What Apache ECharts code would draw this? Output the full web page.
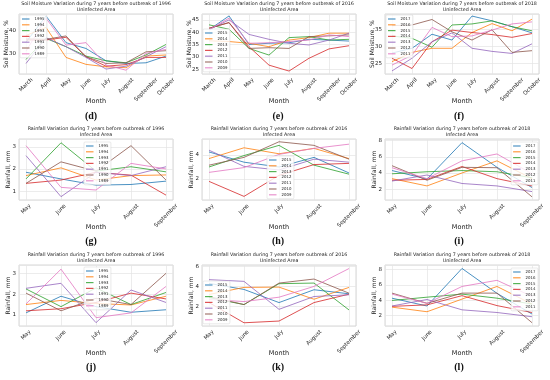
<!DOCTYPE html>
<html><head><meta charset="utf-8">
<script src="https://cdn.jsdelivr.net/npm/echarts@6/dist/echarts.min.js"></script>
<style>html,body{margin:0;padding:0;background:#fff}#c{width:550px;height:380px}</style>
</head><body><div id="c"></div>
<script>
// ---- categories / tick labels ----
const monthsSoil = ['March','April','May','June','July','August','September','October'];
const monthsRain = ['May','June','July','August','September'];
const years1996 = ['1995','1994','1993','1992','1991','1990','1989'];
const years2016 = ['2015','2014','2013','2012','2011','2010','2009'];
const years2018 = ['2017','2016','2015','2014','2013','2012','2011'];

// ---- series values (one row per year, in legend order) ----
// (d) Soil moisture, 1996, uninfected
const soil1996 = [
  [35.0, 46.7, 34.8, 32.2, 26.7, 25.5, 25.8, 28.8],
  [38.0, 41.6, 28.2, 25.1, 24.0, 23.6, 28.8, 29.3],
  [27.3, 36.7, 33.0, 28.8, 26.7, 25.8, 29.3, 34.0],
  [36.0, 36.0, 37.2, 28.5, 24.3, 25.0, 28.2, 28.2],
  [25.5, 37.0, 33.0, 28.2, 23.0, 24.3, 28.5, 33.0],
  [36.5, 36.3, 37.8, 28.5, 25.5, 25.8, 30.7, 31.2],
  [31.0, 45.7, 33.7, 34.8, 24.8, 22.5, 30.0, 31.8]
];
// (e) Soil moisture, 2016, uninfected
const soil2016 = [
  [41.0, 46.6, 35.0, 35.5, 35.7, 37.1, 36.8, 36.4],
  [36.5, 36.2, 35.5, 34.1, 36.8, 37.8, 39.6, 39.6],
  [43.0, 41.2, 33.4, 30.7, 37.8, 38.2, 36.8, 37.1],
  [41.6, 43.9, 34.1, 26.6, 24.2, 29.4, 33.2, 34.5],
  [41.0, 45.0, 39.1, 37.1, 35.5, 34.8, 36.8, 39.6],
  [41.6, 43.9, 33.4, 33.7, 33.4, 38.2, 38.5, 38.9],
  [41.0, 45.7, 35.5, 35.7, 36.2, 36.8, 38.9, 38.2]
];
// (f) Soil moisture, 2018, uninfected
const soil2018 = [
  [28.0, 29.4, 33.5, 31.8, 38.8, 37.4, 35.7, 33.9],
  [25.5, 28.2, 29.4, 29.4, 34.0, 36.6, 34.5, 37.9],
  [33.0, 32.3, 29.7, 36.2, 36.5, 37.4, 35.7, 34.5],
  [26.5, 23.5, 31.3, 34.7, 34.0, 33.4, 32.6, 33.7],
  [22.8, 26.5, 31.3, 33.9, 29.4, 28.5, 27.9, 30.7],
  [36.0, 36.2, 37.8, 34.2, 31.8, 34.8, 28.2, 28.7],
  [24.5, 27.4, 35.5, 32.8, 33.0, 34.7, 36.5, 37.1]
];
// (g) Rainfall, 1996, infected
const rain1996Inf = [
  [1.85, 1.55, 1.27, 1.30, 1.45],
  [1.70, 2.05, 1.50, 1.70, 1.73],
  [1.55, 3.18, 1.90, 2.10, 1.87],
  [1.35, 1.50, 1.85, 1.72, 0.82],
  [2.60, 0.75, 1.85, 1.70, 2.10],
  [1.35, 2.32, 1.90, 3.05, 1.50],
  [3.05, 1.17, 1.05, 2.25, 2.00]
];
// (h) Rainfall, 2016, infected
const rain2016Inf = [
  [4.25, 3.40, 3.00, 3.80, 2.50],
  [3.70, 4.60, 4.10, 4.55, 3.70],
  [3.00, 3.95, 4.80, 3.15, 2.40],
  [1.80, 0.55, 2.30, 3.20, 3.30],
  [4.40, 3.05, 2.75, 3.65, 3.40],
  [3.15, 3.80, 5.10, 4.80, 3.65],
  [2.55, 2.95, 4.05, 4.55, 4.90]
];
// (i) Rainfall, 2018, infected
const rain2018Inf = [
  [4.30, 3.25, 7.75, 4.70, 2.20],
  [3.30, 2.40, 4.00, 5.50, 3.30],
  [3.90, 4.15, 4.30, 4.15, 3.40],
  [3.10, 3.20, 4.80, 3.30, 2.40],
  [3.00, 3.75, 2.70, 2.40, 1.70],
  [4.90, 3.10, 4.70, 4.65, 1.05],
  [4.65, 3.30, 5.50, 6.35, 3.90]
];
// (j) Rainfall, 1996, uninfected
const rain1996Un = [
  [1.10, 1.90, 1.40, 1.13, 1.25],
  [1.50, 1.70, 1.55, 1.48, 1.90],
  [2.25, 1.40, 2.30, 1.50, 2.08],
  [1.20, 1.30, 1.60, 2.05, 1.77],
  [2.28, 2.52, 0.63, 2.20, 1.60],
  [2.05, 1.20, 1.80, 1.50, 3.00],
  [1.53, 3.20, 0.87, 1.10, 2.37]
];
// (k) Rainfall, 2016, uninfected
const rain2016Un = [
  [4.30, 3.70, 2.40, 3.67, 3.27],
  [3.20, 3.90, 3.93, 2.73, 3.90],
  [2.90, 2.20, 4.27, 4.33, 1.67],
  [2.40, 0.40, 0.57, 2.40, 3.23],
  [4.67, 4.50, 1.73, 3.00, 3.17],
  [3.00, 2.20, 4.33, 4.73, 3.33],
  [2.70, 2.50, 2.93, 4.00, 5.77]
];
// (l) Rainfall, 2018, uninfected
const rain2018Un = [
  [4.27, 3.25, 8.15, 4.90, 2.20],
  [3.10, 2.50, 4.15, 5.80, 3.50],
  [3.97, 4.40, 4.80, 4.27, 3.50],
  [3.20, 3.40, 4.60, 3.30, 2.40],
  [3.25, 4.10, 2.75, 2.40, 1.85],
  [4.93, 3.60, 4.93, 4.93, 1.07],
  [4.80, 3.60, 5.80, 6.60, 4.50]
];

// ---- styling / layout ----
const COLORS = ['#1f77b4','#ff7f0e','#2ca02c','#d62728','#9467bd','#8c564b','#e377c2'];
const FONT = 'DejaVu Sans';
const COL_LEFT = [19, 202, 385];
const PLOT_W = 154;
const ROW_TOP = [14, 139, 265];
const ROW_H = [60, 61, 61];
const LETTER_X = [91, 278, 459];
const LETTER_Y = [117, 242, 368];

const soilT = 'Soil Moisture Variation during 7 years before outbreak of ';
const rainT = 'Rainfall Variation during 7 years before outbreak of ';

const panels = [
  {key:'d', row:0, col:0, title: soilT+'1996\nUninfected Area', months: monthsSoil, years: years1996, data: soil1996, yMin:20.8, yMax:47.6, yStep:10, yName:'Soil Moisture, %', nameGap:10, legend:{left:20, top:15}},
  {key:'e', row:0, col:1, title: soilT+'2016\nUninfected Area', months: monthsSoil, years: years2016, data: soil2016, yMin:23.0, yMax:47.4, yStep:5, yName:'Soil Moisture, %', nameGap:10, legend:{left:203, top:29}},
  {key:'f', row:0, col:2, title: soilT+'2018\nUninfected Area', months: monthsSoil, years: years2018, data: soil2018, yMin:21.9, yMax:39.4, yStep:5, yName:'Soil Moisture, %', nameGap:10, legend:{left:386, top:15}},
  {key:'g', row:1, col:0, title: rainT+'1996\nInfected Area', months: monthsRain, years: years1996, data: rain1996Inf, yMin:0.6, yMax:3.35, yStep:1, yName:'Rainfall, mm', nameGap:8, legend:{left:84, top:142}},
  {key:'h', row:1, col:1, title: rainT+'2016\nInfected Area', months: monthsRain, years: years2016, data: rain2016Inf, yMin:0.25, yMax:5.33, yStep:2, yName:'Rainfall, mm', nameGap:8, legend:{left:267, top:156}},
  {key:'i', row:1, col:2, title: rainT+'2018\nInfected Area', months: monthsRain, years: years2018, data: rain2018Inf, yMin:0.66, yMax:8.2, yStep:2, yName:'Rainfall, mm', nameGap:8, legend:{right:12, top:142}},
  {key:'j', row:2, col:0, title: rainT+'1996\nUninfected Area', months: monthsRain, years: years1996, data: rain1996Un, yMin:0.47, yMax:3.4, yStep:1, yName:'Rainfall, mm', nameGap:8, legend:{left:84, top:267}},
  {key:'k', row:2, col:1, title: rainT+'2016\nUninfected Area', months: monthsRain, years: years2016, data: rain2016Un, yMin:0.08, yMax:6.12, yStep:2, yName:'Rainfall, mm', nameGap:8, legend:{left:203, top:281}},
  {key:'l', row:2, col:2, title: rainT+'2018\nUninfected Area', months: monthsRain, years: years2018, data: rain2018Un, yMin:0.64, yMax:8.6, yStep:2, yName:'Rainfall, mm', nameGap:8, legend:{right:12, top:268}}
];

const ctx = document.createElement('canvas').getContext('2d');
const LABEL_FS = 5.5;
ctx.font = LABEL_FS + 'px "' + FONT + '"';
function richFor(labels) {
  const r = {};
  labels.forEach(l => {
    const w = ctx.measureText(l).width;
    r[l] = {padding: [w/2, w/2, 0, 0], fontSize: LABEL_FS, fontFamily: FONT, color: '#222'};
  });
  return r;
}

const option = {animation:false, backgroundColor:'#fff', title:[], grid:[], xAxis:[], yAxis:[], legend:[], series:[]};

panels.forEach((p, i) => {
  const left = COL_LEFT[p.col], top = ROW_TOP[p.row], h = ROW_H[p.row];
  const n = p.months.length;
  const pad = (n - 1) * 0.05;
  option.grid.push({left: left, top: top, width: PLOT_W, height: h, show: true,
    borderColor: '#cccccc', borderWidth: 0.8, backgroundColor: 'rgba(0,0,0,0)',
    containLabel: false, outerBoundsMode: 'none'});
  option.title.push({text: p.title, left: left + PLOT_W/2, top: top - 12.5, textAlign: 'center', padding: 0, itemGap: 0,
    textStyle: {fontSize: 4.8, lineHeight: 5.3, fontWeight: 'normal', color: '#222', fontFamily: FONT}});
  option.title.push({text: '(' + p.key + ')', left: LETTER_X[p.col], top: LETTER_Y[p.row] - 6, textAlign: 'center', padding: 0,
    textStyle: {fontSize: 10, fontWeight: 'bold', color: '#111', fontFamily: 'Liberation Serif'}});
  const months = p.months;
  option.xAxis.push({gridIndex: i, type: 'value', min: -pad, max: n - 1 + pad, minInterval: 1, maxInterval: 1,
    axisLine: {show: false}, axisTick: {show: false},
    splitLine: {show: true, lineStyle: {color: '#e4e4e4', width: 0.7}},
    axisLabel: {rotate: 45, align: 'center', verticalAlign: 'middle', margin: 5,
      showMinLabel: false, showMaxLabel: false,
      formatter: v => { const k = Math.round(v); return (Math.abs(v - k) < 1e-6 && months[k]) ? '{' + months[k] + '|' + months[k] + '}' : ''; },
      rich: richFor(months)},
    name: 'Month', nameLocation: 'middle', nameGap: 24, nameMoveOverlap: false,
    nameTextStyle: {fontSize: 6.5, color: '#222', fontFamily: FONT}});
  option.yAxis.push({gridIndex: i, type: 'value', min: p.yMin, max: p.yMax, minInterval: p.yStep, maxInterval: p.yStep,
    axisLine: {show: false}, axisTick: {show: false},
    splitLine: {show: true, lineStyle: {color: '#e4e4e4', width: 0.7}},
    axisLabel: {fontSize: LABEL_FS, color: '#222', fontFamily: FONT, margin: 3, showMinLabel: false, showMaxLabel: false,
      formatter: v => (Math.abs(v / p.yStep - Math.round(v / p.yStep)) < 1e-6 ? String(Math.round(v)) : '')},
    name: p.yName, nameLocation: 'middle', nameGap: p.nameGap, nameMoveOverlap: false,
    nameTextStyle: {fontSize: 6, color: '#222', fontFamily: FONT}});
  const names = p.years.map(y => p.key + ':' + y);
  option.legend.push(Object.assign({orient: 'vertical', data: names, icon: 'rect', itemWidth: 7.5, itemHeight: 1.2,
    itemGap: 0.8, itemTextGap: 3, padding: [1.5, 2.5, 1.5, 2], selectedMode: false,
    backgroundColor: 'rgba(255,255,255,0.8)', borderColor: '#d4d4d4', borderWidth: 0.5, borderRadius: 1,
    formatter: name => name.split(':')[1],
    textStyle: {fontSize: 3.9, lineHeight: 5, color: '#222', fontFamily: FONT}}, p.legend));
  p.data.forEach((vals, j) => {
    option.series.push({type: 'line', name: names[j], xAxisIndex: i, yAxisIndex: i,
      data: vals.map((v, k) => [k, v]), showSymbol: false, symbol: 'none', smooth: false,
      color: COLORS[j],
      lineStyle: {width: 1, color: COLORS[j], opacity: 0.8},
      itemStyle: {color: COLORS[j], opacity: 0.8}});
  });
});

const chart = echarts.init(document.getElementById('c'), null, {renderer: 'canvas'});
chart.setOption(option);
</script></body></html>
